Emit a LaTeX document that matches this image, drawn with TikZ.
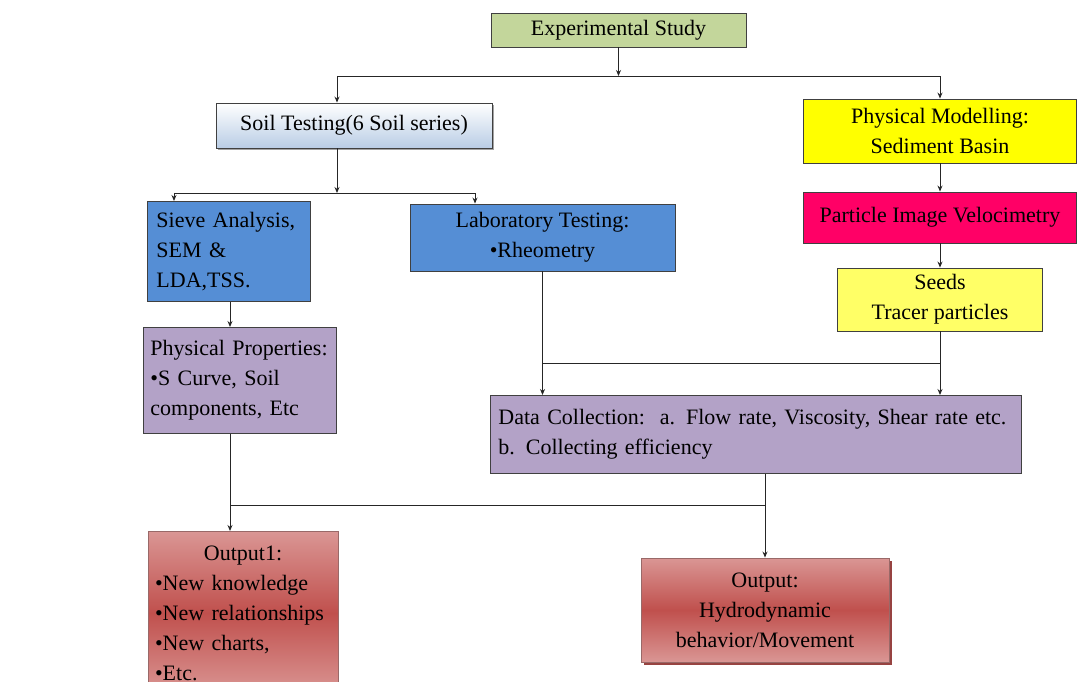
\documentclass[tikz,border=0pt]{standalone}
\usepackage{fontspec}
\setmainfont{Liberation Serif}
\usetikzlibrary{positioning, shadows, arrows.meta}
\definecolor{expgreen}{HTML}{C3D69B}
\definecolor{soilblue}{HTML}{B9CDE5}
\definecolor{testblue}{HTML}{558ED5}
\definecolor{propviolet}{HTML}{B3A2C7}
\definecolor{modelyellow}{HTML}{FFFF00}
\definecolor{seedyellow}{HTML}{FFFF66}
\definecolor{pivred}{HTML}{FF0066}
\definecolor{outlight}{HTML}{DA9694}
\definecolor{outdark}{HTML}{C0504D}
\definecolor{outshade}{HTML}{8C2F2C}

\begin{document}
\begin{tikzpicture}[x=1pt,y=-1pt,
    font=\fontsize{22}{30}\selectfont,
    >={Stealth[length=6pt,width=5pt]},
    box/.style={draw=black!75, line width=0.9pt, inner sep=0pt, align=center},
    leftbox/.style={box, align=left, anchor=north west},
    outbox/.style={box, top color=outlight, bottom color=outlight, middle color=outdark, draw=outlight!70!black},
    link/.style={draw=black!85, line width=0.9pt}]

  \useasboundingbox (0,0) rectangle (1077,682);

  % top row
  \node[box, fill=expgreen, minimum width=255pt, minimum height=34pt] (exp) at (618.5,30) {Experimental Study};
  \node[box, top color=white, bottom color=soilblue, minimum width=276pt, minimum height=45pt,
        drop shadow={shadow xshift=2pt, shadow yshift=-2pt, fill=black!60, opacity=0.6}] (soil) at (354,125.5) {Soil Testing(6 Soil series)};
  \node[box, fill=modelyellow, minimum width=273pt, minimum height=64pt] (model) at (940,131) {Physical Modelling:\\Sediment Basin};
  \node[box, fill=pivred, minimum width=273pt, minimum height=51pt] (piv) at (940,217.5) {Particle Image Velocimetry};
  \node[box, fill=seedyellow, minimum width=205pt, minimum height=63pt] (seeds) at (940,299.5) {Seeds\\Tracer particles};

  % soil tests
  \node[leftbox, fill=testblue, minimum width=163pt, minimum height=100pt, inner xsep=9pt, text width=145pt] (sieve) at (147,201) {Sieve Analysis,\\SEM \&\\LDA,TSS.};
  \node[box, fill=testblue, minimum width=265pt, minimum height=67pt] (lab) at (542.5,237.5) {Laboratory Testing:\\•Rheometry};
  \node[leftbox, fill=propviolet, minimum width=193pt, minimum height=106pt, inner xsep=7pt, text width=179pt] (props) at (143,327) {Physical Properties:\\•S Curve, Soil\\components, Etc};
  \node[leftbox, fill=propviolet, minimum width=531pt, minimum height=78pt, inner xsep=8pt, text width=515pt] (data) at (490,395) {Data Collection:\ \ a. Flow rate, Viscosity, Shear rate etc.\\b. Collecting efficiency};

  % outputs
  \node[outbox, anchor=north, text width=176pt, align=left, inner xsep=7pt, inner ysep=14pt] (out1) at (243,531)
    {\makebox[\linewidth]{Output1:}\\•New knowledge\\•New relationships\\•New charts,\\•Etc.};
  \node[outbox, minimum width=248pt, minimum height=104pt,
        drop shadow={shadow xshift=3pt, shadow yshift=-3pt, fill=outshade, opacity=0.9}] (outp) at (765,610) {Output:\\Hydrodynamic\\behavior/Movement};

  % junctions
  \coordinate (topL) at (337,76);
  \coordinate (topR) at (940,76);
  \coordinate (midL) at (174,193);
  \coordinate (midR) at (475,193);
  \coordinate (dcbar) at (0,363);
  \coordinate (outL) at (230,505);
  \coordinate (outR) at (765,505);

  \draw[link,->] (exp.south) -- (exp.south |- topL);
  \draw[link,->] (topL) -- (topL |- soil.north);
  \draw[link,->] (topL) -- (topR) -- (model.north);
  \draw[link,->] (model) -- (piv);
  \draw[link,->] (piv) -- (seeds);

  \draw[link,->] (soil.south -| topL) -- (topL |- midL);
  \draw[link,->] (midL) -- (midL |- sieve.north);
  \draw[link,->] (midL) -- (midR) -- (midR |- lab.north);
  \draw[link,->] (sieve.south -| outL) -- (outL |- props.north);

  \draw[link] (lab.south |- dcbar) -- (seeds.south |- dcbar);
  \draw[link,->] (lab.south) -- (lab.south |- data.north);
  \draw[link,->] (seeds.south) -- (seeds.south |- data.north);

  \draw[link,->] (props.south -| outL) -- (outL |- out1.north);
  \draw[link] (outL) -- (outR);
  \draw[link,->] (data.south -| outR) -- (outR |- outp.north);
\end{tikzpicture}
\end{document}
